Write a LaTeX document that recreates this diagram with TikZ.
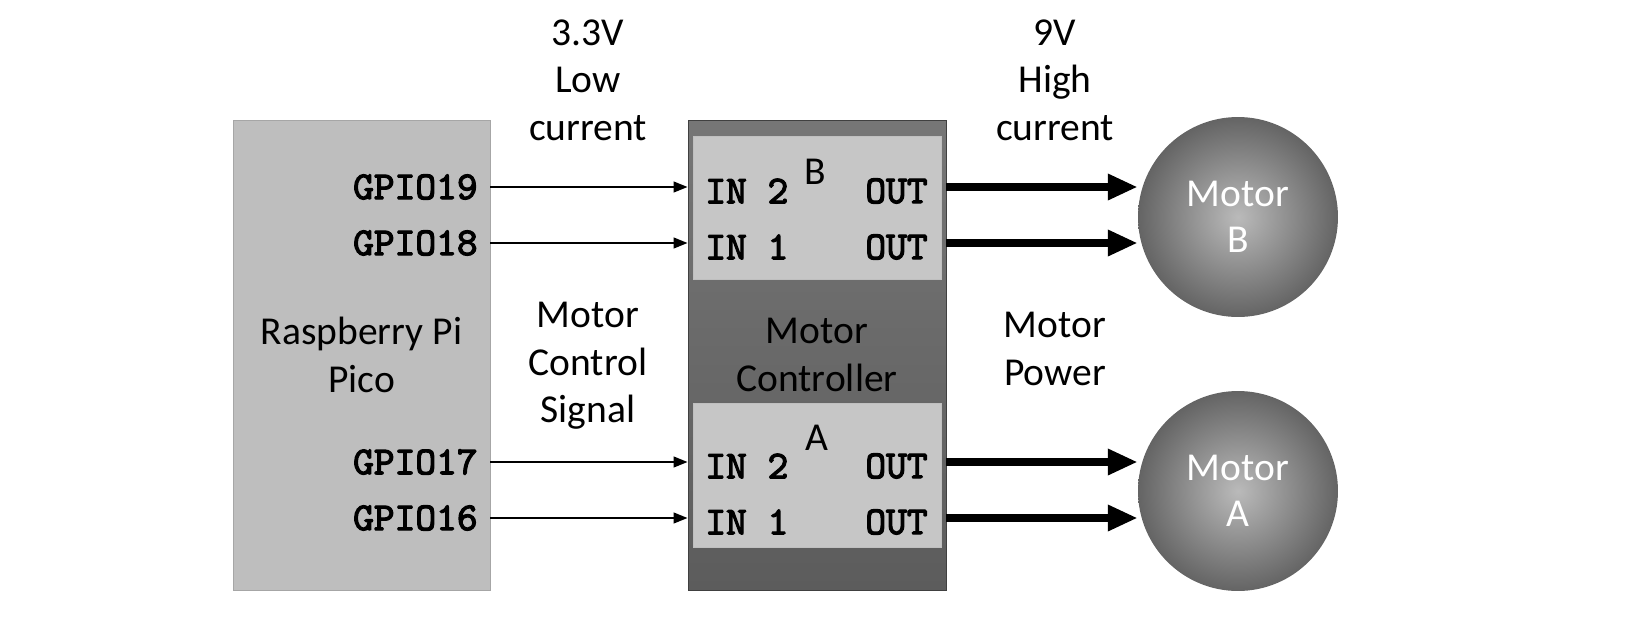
\documentclass[tikz,border=0pt]{standalone}
\usepackage{fontspec}
\setmainfont{Carlito}
\newfontfamily\pinfont{lmmono10-regular.otf}[FakeBold=3]
\usepackage{xcolor}
\usetikzlibrary{arrows.meta}
\definecolor{pico}{RGB}{190,190,190}
\definecolor{ctrl}{RGB}{118,118,118}
\definecolor{ctrldark}{RGB}{92,92,92}
\definecolor{half}{RGB}{198,198,198}
\definecolor{motorin}{RGB}{186,186,186}
\definecolor{motorout}{RGB}{100,100,100}

\begin{document}
\begin{tikzpicture}[x=0.02cm, y=-0.02cm,
        box/.style = {rectangle, inner sep=0pt, align=center,
            font=\fontsize{22.5}{27}\selectfont},
        pin/.style = {inner sep=0pt, font=\fontsize{22.5}{23}\selectfont\pinfont},
        motor/.style = {circle, minimum size=4cm, inner sep=0pt, align=center,
            shading=radial, inner color=motorin, outer color=motorout, text=white,
            font=\fontsize{22.5}{26}\selectfont},
        signal/.style = {line width=1.4pt, -{Triangle[length=8pt,width=6pt]}},
        power/.style = {line width=5pt, -{Triangle[length=17pt,width=14pt]}}]
        \useasboundingbox (0,0) rectangle (1650,636);

        % Pico
        \node[box, fill=pico, draw=gray!70, minimum width=5.14cm, minimum height=9.4cm] (pico) at (361.5,355) {Raspberry Pi\\Pico};

        % Controller with its two halves
        \node[box, top color=ctrl, bottom color=ctrldark, draw=black!75, minimum width=5.16cm, minimum height=9.4cm] (ctrl) at (817,355) {Motor\\Controller};
        \node[box, fill=half, draw=gray!50, minimum width=4.96cm, minimum height=2.86cm] (halfB) at (817,208) {};
        \node[box, fill=half, draw=gray!50, minimum width=4.96cm, minimum height=2.88cm] (halfA) at (817,475) {};
        \node[box] (nameB) at (815,172) {B};
        \node[box] (nameA) at (817,438) {A};

        % Motors
        \node[motor] (motorB) at (1238,217) {Motor\\B};
        \node[motor] (motorA) at (1238,491) {Motor\\A};

        % Pins and wires
        \foreach \n/\y/\k/\m in {19/187/2/B, 18/243/1/B, 17/462/2/A, 16/518/1/A} {
            \node[pin, anchor=east] (gpio\n) at (478,\y) {GPIO\n};
            \node[pin, anchor=west] (in\n) at (705,\y+4) {IN \k};
            \node[pin, anchor=east] (out\n) at (928,\y+4) {OUT};
            \draw[signal] (pico.east |- gpio\n) -- (ctrl.west |- gpio\n);
            \draw[power] (ctrl.east |- gpio\n) -- (motor\m.west |- gpio\n);
        }

        % Wire texts
        \node[box] (low) at (588,80) {3.3V\\Low\\current};
        \node[box] (high) at (1055,80) {9V\\High\\current};
        \node[box] (sigtext) at (588,366) {Motor\\Control\\Signal};
        \node[box] (powtext) at (1055,349) {Motor\\Power};
    \end{tikzpicture}
\end{document}
